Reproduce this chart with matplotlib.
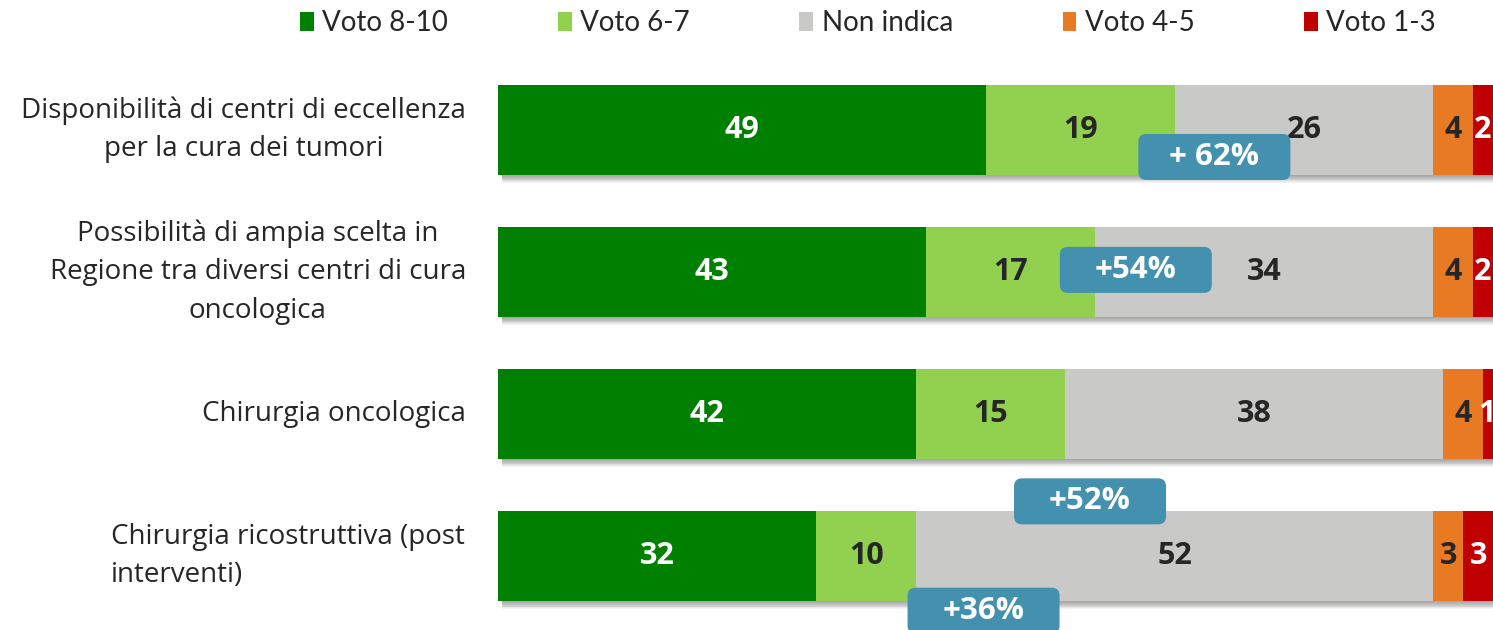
import matplotlib
matplotlib.use("Agg")
import matplotlib.pyplot as plt
from matplotlib.patches import FancyBboxPatch, Rectangle

categories = [
    "Disponibilità di centri di eccellenza\nper la cura dei tumori",
    "Possibilità di ampia scelta in\nRegione tra diversi centri di cura\noncologica",
    "Chirurgia oncologica",
    "Chirurgia ricostruttiva (post\ninterventi)",
]
series_names = ["Voto 8-10", "Voto 6-7", "Non indica", "Voto 4-5", "Voto 1-3"]
voto_8_10 = [49, 43, 42, 32]
voto_6_7 = [19, 17, 15, 10]
non_indica = [26, 34, 38, 52]
voto_4_5 = [4, 4, 4, 3]
voto_1_3 = [2, 2, 1, 3]
callout_texts = ["+ 62%", "+54%", "+52%", "+36%"]
callout_x = [72.0, 64.1, 59.5, 48.8]
callout_y = [0.19, 0.985, 2.615, 3.385]

series = [voto_8_10, voto_6_7, non_indica, voto_4_5, voto_1_3]
colors = ["#008000", "#92D050", "#C9C9C7", "#E87A24", "#C00000"]
text_colors = ["white", "#262626", "#262626", "#262626", "white"]

FONT = "Open Sans"
plt.rcParams["font.family"] = [FONT, "DejaVu Sans"]

fig = plt.figure(figsize=(14.93, 6.30), dpi=100)
ax = fig.add_axes([498 / 1493, 0, 1 - 498 / 1493, 1])
ax.set_xlim(0, 100)
ax.set_ylim(3.521, -0.9155)
ax.axis("off")

bar_h = 0.635
px_x = 100 / 995.0   # data per pixel in x
px_y = 1 / 142.0     # data per pixel in y
ypos = list(range(len(categories)))

# shadows
for i in ypos:
    total = sum(s[i] for s in series)
    for k in range(1, 10):
        ax.add_patch(Rectangle((4 * px_x, i - bar_h / 2 + k * 0.9 * px_y), total,
                               bar_h, facecolor="#000000", alpha=0.045,
                               edgecolor="none", zorder=1))

left = [0] * len(categories)
for s, c, tc, name in zip(series, colors, text_colors, series_names):
    ax.barh(ypos, s, left=left, height=bar_h, color=c, edgecolor="none",
            zorder=2, label=name)
    for i, v in enumerate(s):
        x = min(left[i] + v / 2, 99.35)
        ax.text(x, i, str(v), ha="center", va="center",
                color=tc, fontsize=22, fontweight="bold", zorder=3)
    left = [l + v for l, v in zip(left, s)]

# callouts
bw, bh = 152 * px_x, 46 * px_y
for t, cx, cy in zip(callout_texts, callout_x, callout_y):
    box = FancyBboxPatch((cx - bw / 2, cy - bh / 2), bw, bh,
                         boxstyle="round,pad=0,rounding_size=0.8",
                         mutation_aspect=px_y / px_x,
                         facecolor="#4391AE", edgecolor="none", zorder=5,
                         clip_on=False)
    ax.add_patch(box)
    ax.text(cx, cy, t, ha="center", va="center", color="white",
            fontsize=22.5, fontweight="bold", zorder=6)

# category labels
for i, lab in enumerate(categories):
    y = 1 - (130 + 142 * i) / 630
    if i == 3:
        fig.text(111 / 1493, y, lab, ha="left", va="center", fontsize=20,
                 color="#262626", linespacing=1.5, multialignment="left")
    else:
        fig.text(466 / 1493, y, lab, ha="right", va="center", fontsize=20,
                 color="#262626", linespacing=1.5, multialignment="center")

# legend
leg = fig.legend(loc="center", bbox_to_anchor=(868 / 1493, 1 - 23 / 630),
                 ncol=5, frameon=False, handlelength=0.5,
                 prop={"family": "Lato", "size": 20},
                 handleheight=0.7, handletextpad=0.3, columnspacing=3.95)
for t in leg.get_texts():
    t.set_color("#262626")

fig.savefig("out.png", dpi=100)
